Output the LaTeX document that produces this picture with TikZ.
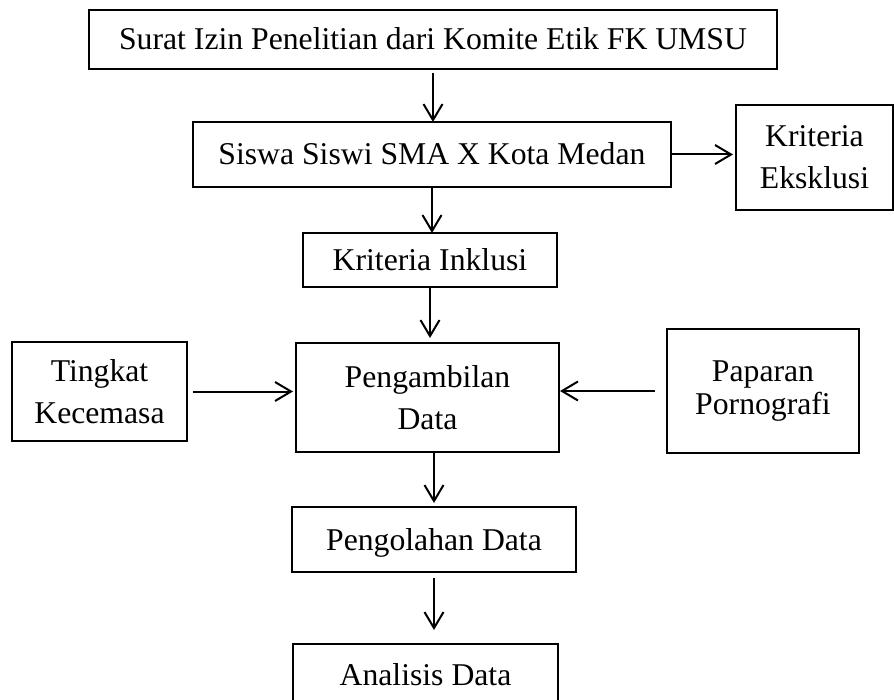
\documentclass[tikz,border=0pt]{standalone}
\usepackage{fontspec}
\setmainfont{Liberation Serif}
\usetikzlibrary{arrows.meta}
\begin{document}
\begin{tikzpicture}[x=1pt,y=-1pt,
  box/.style={draw,line width=1.2pt,inner sep=0pt,outer sep=0pt,align=center,
    font=\fontsize{31.7}{42}\selectfont},
  one/.style={text height=21pt,text depth=0pt},
  arr/.style={line width=2pt,-{Straight Barb[length=16pt,width=19pt]}}]
\useasboundingbox (0,0) rectangle (894,700);
\node[box,one,minimum width=688pt,minimum height=59pt] (b1) at (433,39.5) {Surat Izin Penelitian dari Komite Etik FK UMSU};
\node[box,one,minimum width=478pt,minimum height=65pt] (b2) at (432,154.5) {Siswa Siswi SMA X Kota Medan};
\node[box,minimum width=157pt,minimum height=105pt] (eks) at (814.5,157.5) {Kriteria\\Eksklusi};
\node[box,one,minimum width=254pt,minimum height=54pt] (ink) at (430,260) {Kriteria Inklusi};
\node[box,minimum width=175pt,minimum height=99pt] (ting) at (99.5,391.5) {Tingkat\\Kecemasa};
\node[box,minimum width=263pt,minimum height=109pt] (pa) at (427.5,397.5) {Pengambilan\\Data};
\node[box,font=\fontsize{31.7}{33}\selectfont,minimum width=192pt,minimum height=124pt] (pap) at (763,391) {Paparan\\Pornografi};
\node[box,one,minimum width=284pt,minimum height=65pt] (po) at (434,539.5) {Pengolahan Data};
\node[box,one,minimum width=265pt,minimum height=61pt] (an) at (425.5,674.5) {Analisis Data};
\draw[arr,shorten <=4pt] (b1.south) -- (b1.south |- b2.north);
\draw[arr,shorten >=3pt] (b2.east) -- (b2.east -| eks.west);
\draw[arr] (b2.south) -- (b2.south |- ink.north);
\draw[arr,shorten >=5pt] (ink.south) -- (ink.south |- pa.north);
\draw[arr,shorten <=6pt,shorten >=3pt] (ting.east) -- (ting.east -| pa.west);
\draw[arr,shorten <=12pt,shorten >=1pt] (pap.west) -- (pap.west -| pa.east);
\draw[arr,shorten >=4pt] (po.north |- pa.south) -- (po.north);
\draw[arr,shorten <=6pt,shorten >=14pt] (po.south) -- (po.south |- an.north);
\end{tikzpicture}
\end{document}
